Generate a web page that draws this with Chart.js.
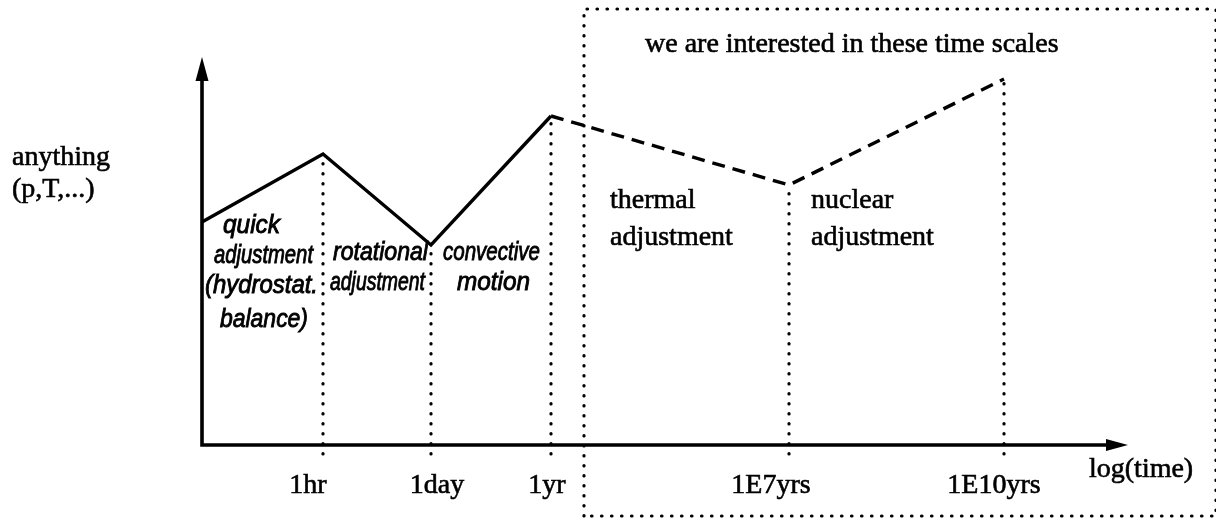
<!DOCTYPE html>
<html>
<head>
<meta charset="utf-8">
<script src="https://cdn.jsdelivr.net/npm/chart.js@4.4.1/dist/chart.umd.min.js"></script>
<style>
html,body{margin:0;padding:0;background:#fff;}
#wrap{width:1216px;height:518px;position:relative;}
</style>
</head>
<body>
<div id="wrap"><canvas id="c" width="1216" height="518"></canvas></div>
<script>
// ---- data (schematic units: x = position along log(time) axis, y = "anything") ----
const categories = ['start', '1hr', '1day', '1yr', '1E7yrs', '1E10yrs'];
const xValues    = [0, 121, 229, 349, 587, 802];
const yValues    = [223, 291, 200, 329, 260, 366];
const tickLabels = ['1hr', '1day', '1yr', '1E7yrs', '1E10yrs'];
const tickIndex  = [1, 2, 3, 4, 5];
const xAxisMax = 926;
const yAxisMax = 388;
const axisBelow = -9;          // dotted guides run slightly below the axis
const boxX = [382, 1014];      // "interesting" region box, x range
const boxY = [-71, 436];       // y range

const serif = '"Liberation Serif", "Times New Roman", serif';
const hand  = 'italic 26px "Liberation Sans", "DejaVu Sans", sans-serif';

// ---- datasets ----
const curve = xValues.map((x, i) => ({x: x, y: yValues[i]}));
const datasets = [{
  label: 'anything',
  data: curve,
  borderColor: '#000',
  borderWidth: 3.4,
  pointRadius: 0,
  tension: 0,
  borderJoinStyle: 'miter',
  clip: false,
  segment: {
    borderDash: ctx => ctx.p0DataIndex >= 3 ? [13, 8] : undefined
  }
}];
tickIndex.forEach(i => {
  datasets.push({
    label: 'guide ' + categories[i],
    data: [{x: xValues[i], y: axisBelow}, {x: xValues[i], y: yValues[i]}],
    borderColor: '#000',
    borderWidth: 3.2,
    borderDash: [0.5, 9.5],
    borderCapStyle: 'round',
    pointRadius: 0,
    clip: false
  });
});
datasets.push({
  label: 'box',
  data: [{x: boxX[0], y: boxY[0]}, {x: boxX[0], y: boxY[1]}, {x: boxX[1], y: boxY[1]},
         {x: boxX[1], y: boxY[0]}, {x: boxX[0], y: boxY[0]}],
  borderColor: '#000',
  borderWidth: 3.2,
  borderDash: [0.5, 9.5],
  borderCapStyle: 'round',
  pointRadius: 0,
  clip: false
});

// ---- text layout (pixels) ----
const tickCenters = [308, 437, 547, 771, 994];
const serifTexts = [
  ['we are interested in these time scales', 645, 52],
  ['anything', 12, 165],
  ['(p,T,...)', 12, 197],
  ['thermal', 610, 208],
  ['adjustment', 610, 245],
  ['nuclear', 811, 208],
  ['adjustment', 811, 245],
  ['log(time)', 1089, 477]
];
const handTexts = [
  ['quick', 223, 226, 57],
  ['adjustment', 214, 256, 99],
  ['(hydrostat.', 205, 286, 113],
  ['balance)', 220, 320, 88],
  ['rotational', 333, 253, 95],
  ['adjustment', 330, 283, 95],
  ['convective', 443, 253, 97],
  ['motion', 457, 283, 73]
];

const decor = {
  id: 'decor',
  afterDatasetsDraw(chart) {
    const c = chart.ctx;
    const xs = chart.scales.x, ys = chart.scales.y;
    const x0 = xs.getPixelForValue(0), y0 = ys.getPixelForValue(0);
    const xEnd = xs.getPixelForValue(xAxisMax), yTop = ys.getPixelForValue(yAxisMax);
    c.save();
    c.strokeStyle = '#000'; c.fillStyle = '#000';
    c.lineWidth = 3.6; c.setLineDash([]); c.lineCap = 'butt';
    // axes
    c.beginPath();
    c.moveTo(x0, yTop + 18); c.lineTo(x0, y0 + 1.8);
    c.moveTo(x0 - 1.8, y0); c.lineTo(xEnd - 16, y0);
    c.stroke();
    // arrow heads
    c.beginPath();
    c.moveTo(x0, yTop); c.lineTo(x0 - 6.5, yTop + 24); c.lineTo(x0 + 6.5, yTop + 24); c.closePath();
    c.fill();
    c.beginPath();
    c.moveTo(xEnd, y0); c.lineTo(xEnd - 22, y0 - 6); c.lineTo(xEnd - 22, y0 + 6); c.closePath();
    c.fill();
    // serif texts (slightly thickened like the scanned original)
    c.font = '28px ' + serif;
    c.lineWidth = 0.6;
    c.textBaseline = 'alphabetic';
    c.textAlign = 'left';
    serifTexts.forEach(t => { c.fillText(t[0], t[1], t[2]); c.strokeText(t[0], t[1], t[2]); });
    c.textAlign = 'center';
    tickLabels.forEach((t, i) => { c.fillText(t, tickCenters[i], 493); c.strokeText(t, tickCenters[i], 493); });
    // handwritten notes
    c.font = hand;
    c.lineWidth = 0.9;
    c.textAlign = 'left';
    c.textBaseline = 'middle';
    handTexts.forEach(t => { c.fillText(t[0], t[1], t[2], t[3]); c.strokeText(t[0], t[1], t[2], t[3]); });
    c.restore();
  }
};

new Chart(document.getElementById('c'), {
  type: 'line',
  data: { datasets: datasets },
  options: {
    responsive: false,
    animation: false,
    events: [],
    layout: { padding: { left: 202, right: 88, top: 57, bottom: 73 } },
    plugins: { legend: { display: false }, tooltip: { enabled: false } },
    scales: {
      x: { type: 'linear', min: 0, max: xAxisMax, display: false },
      y: { type: 'linear', min: 0, max: yAxisMax, display: false }
    }
  },
  plugins: [decor]
});
</script>
</body>
</html>
